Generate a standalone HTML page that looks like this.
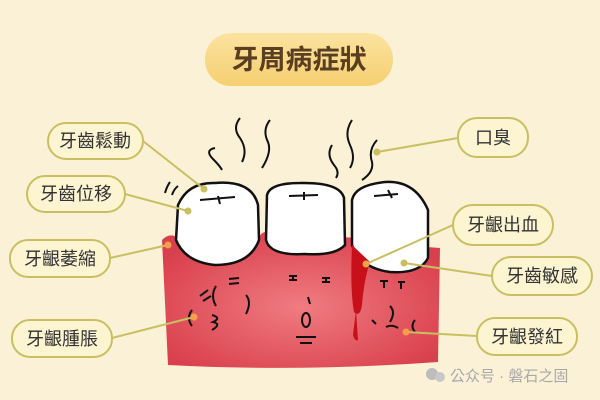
<!DOCTYPE html>
<html><head><meta charset="utf-8"><style>
html,body{margin:0;padding:0;background:#fbf1d6;}
svg{display:block}
text{font-family:"Liberation Sans","Noto Sans CJK TC","Noto Sans CJK SC",sans-serif;}
</style></head><body>
<svg width="600" height="400" viewBox="0 0 600 400" xmlns="http://www.w3.org/2000/svg">
<defs>
<linearGradient id="tg" x1="0" y1="0" x2="0" y2="1"><stop offset="0" stop-color="#fbe3a0"/><stop offset="1" stop-color="#f6cf70"/></linearGradient>
<radialGradient id="gg" cx="0.5" cy="0.55" r="0.6"><stop offset="0" stop-color="#f07c80"/><stop offset="1" stop-color="#d9404d"/></radialGradient>
</defs>
<rect width="600" height="400" fill="#fbf1d6"/>
<rect x="205" y="33" width="188" height="53" rx="26" fill="url(#tg)"/>
<text x="299" y="69" font-size="27" font-weight="bold" fill="#5a3e22" text-anchor="middle">牙周病症狀</text>

<path d="M162,240 Q170,232 178,238 L258,238 Q266,226 272,238 L340,240 Q350,234 358,242 L440,248 L438,362 Q300,372 168,365 Z" fill="url(#gg)"/>
<g fill="#fff" stroke="#111" stroke-width="2.5">
<path d="M178,205 Q188,182 215,183 Q252,180 258,205 L259,240 Q250,265 215,265 Q185,262 176,240 Z"/>
<path d="M267,195 Q270,183 300,183 Q340,182 344,198 L345,245 Q335,256 305,254 Q270,256 266,240 Z"/>
<path d="M352,200 Q355,185 385,182 Q415,180 428,210 L428,258 Q420,274 390,272 Q360,268 352,245 Z"/>
</g>
<g stroke="#111" stroke-width="2" fill="none">
<path d="M200,200 L235,197 M218,196 L220,204"/>
<path d="M289,196 L318,195 M304,192 L304,200"/>
<path d="M374,196 L398,194 M388,190 L392,198"/>
<path d="M165,193 Q167,186 170,182 M172,195 Q174,189 178,186"/>
<path d="M215,148 Q205,150 212,158 Q220,166 222,170 M240,118 Q232,128 240,138 Q248,150 242,162 M270,120 Q262,130 268,142 Q272,152 262,168"/>
<path d="M332,145 Q326,155 334,165 Q340,172 336,178 M352,120 Q344,132 350,145 Q356,158 350,168 M377,140 Q368,150 372,162 Q374,172 362,180"/>
<path d="M200,296 L208,290 M203,301 L211,296 M229,279 L239,278 M229,284 L239,283 M216,286 Q210,296 216,306 M246,295 Q252,302 246,314 M192,310 Q186,318 192,326 M212,315 Q222,318 213,322 Q222,324 212,330"/>
<path d="M289,276 L297,276 M293,276 L293,280 M289,280 L297,280 M322,278 L330,278 M326,278 L326,282 M322,282 L330,282 M308,297 L310,304"/>
<ellipse cx="306" cy="320" rx="4" ry="7"/>
<path d="M296,337 L316,337 M300,343 L312,343"/>
<path d="M380,281 L388,281 M384,281 L384,288 M398,282 L405,282 M401,282 L401,289 M390,306 Q396,312 390,322 M372,320 L376,324 M386,327 Q392,324 398,328 M415,320 Q410,326 415,332"/>
</g>
<path d="M352,245 L370,262 Q364,280 362,305 Q360,318 354,312 Q350,290 352,245 Z" fill="#c8101a"/>
<path d="M356,310 L358,340 Q355,342 353,335 Z" fill="#c8101a"/>

<g stroke="#c8c060" stroke-width="2">
<line x1="143" y1="141" x2="204" y2="189"/>
<line x1="125" y1="194" x2="188" y2="211"/>
<line x1="110" y1="258" x2="168" y2="245"/>
<line x1="112" y1="338" x2="194" y2="317"/>
<line x1="458" y1="138" x2="377" y2="152"/>
<line x1="453" y1="225" x2="366" y2="264"/>
<line x1="492" y1="276" x2="404" y2="263"/>
<line x1="477" y1="336" x2="406" y2="332"/>
</g>
<g fill="#c8c060"><circle cx="204" cy="189" r="3.5"/><circle cx="188" cy="211" r="3.5"/><circle cx="377" cy="152" r="3.5"/><circle cx="404" cy="263" r="3.5"/></g>
<g fill="#f5a048"><circle cx="168" cy="245" r="3.5"/><circle cx="194" cy="317" r="3.5"/><circle cx="366" cy="264" r="3.5"/><circle cx="406" cy="332" r="3.5"/></g>

<g fill="#fdf5d2" stroke="#c8bf63" stroke-width="2">
<rect x="48" y="123" width="95" height="36" rx="18"/>
<rect x="27" y="176" width="98" height="36" rx="18"/>
<rect x="10" y="240" width="100" height="37" rx="18"/>
<rect x="12" y="320" width="100" height="37" rx="18"/>
<rect x="458" y="118" width="70" height="39" rx="19"/>
<rect x="453" y="205" width="100" height="40" rx="20"/>
<rect x="492" y="257" width="100" height="38" rx="19"/>
<rect x="477" y="318" width="100" height="37" rx="18"/>
</g>
<g font-size="18" fill="#333" text-anchor="middle">
<text x="95" y="147">牙齒鬆動</text>
<text x="76" y="200">牙齒位移</text>
<text x="60" y="265">牙齦萎縮</text>
<text x="62" y="345">牙齦腫脹</text>
<text x="493" y="144">口臭</text>
<text x="503" y="231">牙齦出血</text>
<text x="542" y="282">牙齒敏感</text>
<text x="527" y="343">牙齦發紅</text>
</g>
<circle cx="432" cy="374" r="6" fill="#bdbdbd"/><circle cx="440" cy="377" r="5" fill="#c8c8c8"/>
<text x="450" y="381" font-size="15" fill="#a8a8a8">公众号 · 磐石之固</text>
</svg>
</body></html>
